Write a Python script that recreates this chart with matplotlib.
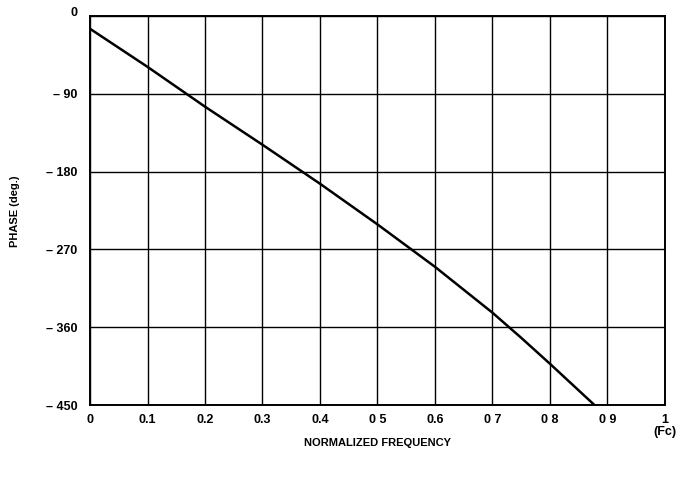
import matplotlib
matplotlib.use("Agg")
import matplotlib.pyplot as plt

# phase response
freq = [0.0, 0.1, 0.2, 0.3, 0.4, 0.5, 0.6, 0.7, 0.75, 0.8, 0.878]
phase = [-15, -59, -105, -149, -194, -241, -290, -343, -372, -402, -450]

xticks = [0, 0.1, 0.2, 0.3, 0.4, 0.5, 0.6, 0.7, 0.8, 0.9, 1.0]
xlabels = ["0", "0.1", "0.2", "0.3", "0.4", "0 5", "0.6", "0 7", "0 8", "0 9", "1\n(Fc)"]
yticks = [0, -90, -180, -270, -360, -450]
ylabels = ["0", "\u2013 90", "\u2013 180", "\u2013 270", "\u2013 360", "\u2013 450"]

plt.rcParams['font.family'] = ['Liberation Sans', 'DejaVu Sans']

fig = plt.figure(figsize=(6.77, 4.79), dpi=100)
ax = fig.add_axes([0.133, 0.154, 0.849, 0.813])

ax.plot(freq, phase, color='black', lw=1.8)

ax.set_xlim(0, 1)
ax.set_ylim(-450, 0)
ax.set_xticks(xticks)
ax.set_xticklabels(xlabels, fontsize=9, fontweight='bold', va='top',
                   multialignment='center', linespacing=1.1)
ax.set_yticks(yticks)
ax.set_yticklabels(ylabels, fontsize=9, fontweight='bold')
ax.tick_params(axis='x', length=0, pad=6)
ax.tick_params(axis='y', length=0, pad=9)
ax.grid(True, color='black', lw=1.0)
for s in ax.spines.values():
    s.set_linewidth(1.4)

# the top "0" sits a little above its line in the original
ax.get_yticklabels()[0].set_va('baseline')

fig.text(0.558, 0.075, "NORMALIZED FREQUENCY", fontsize=8, fontweight='bold',
         ha='center', va='center')
fig.text(0.022, 0.56, "PHASE (deg.)", fontsize=8, fontweight='bold',
         ha='center', va='center', rotation=90)

fig.savefig("out.png", dpi=100)
